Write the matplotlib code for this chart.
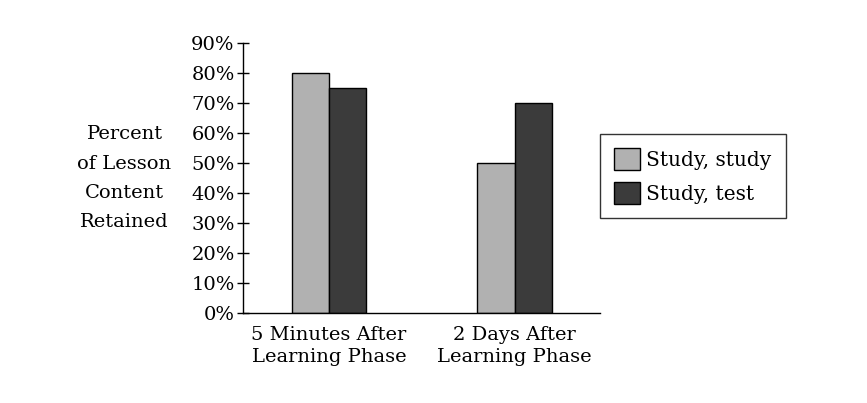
import numpy as np
import matplotlib.pyplot as plt
from matplotlib.ticker import PercentFormatter

# Данные
groups = ['5 Minutes After\nLearning Phase', '2 Days After\nLearning Phase']
study_study = [80, 50]
study_test = [75, 70]
series_names = ['Study, study', 'Study, test']
colors = ['#b1b1b1', '#3b3b3b']

plt.rcParams['font.family'] = ['DejaVu Serif']
plt.rcParams['font.size'] = 14

fig = plt.figure(figsize=(8.67, 4.03), dpi=100)
ax = fig.add_axes([0.2803, 0.2233, 0.4118, 0.67])

x = np.arange(len(groups))
w = 0.2
ax.bar(x - w / 2, study_study, w, color=colors[0], edgecolor='black', linewidth=1.0, label=series_names[0])
ax.bar(x + w / 2, study_test, w, color=colors[1], edgecolor='black', linewidth=1.0, label=series_names[1])

ax.set_xlim(-0.464, 1.461)
ax.set_ylim(0, 90)
ax.set_yticks(range(0, 91, 10))
ax.yaxis.set_major_formatter(PercentFormatter(decimals=0))
ax.set_xticks(x)
ax.set_xticklabels(groups, fontsize=14, linespacing=1.3)
ax.tick_params(axis='x', length=0, pad=9)
ax.tick_params(axis='y', length=8, width=1, direction='inout', pad=2, labelsize=14)

for s in ['top', 'right']:
    ax.spines[s].set_visible(False)
for s in ['left', 'bottom']:
    ax.spines[s].set_linewidth(1.0)

fig.text(0.1436, 0.558, 'Percent\nof Lesson\nContent\nRetained', ha='center', va='center',
         fontsize=14, linespacing=1.8)

leg = ax.legend(loc='center left', bbox_to_anchor=(1.0, 0.506), borderaxespad=0,
                frameon=True, fancybox=False, edgecolor='black', fontsize=14.5,
                handlelength=1.3, handleheight=1.3, borderpad=0.7,
                labelspacing=0.6, handletextpad=0.3)
leg.get_frame().set_linewidth(1.0)

plt.savefig('out.png', dpi=100)
